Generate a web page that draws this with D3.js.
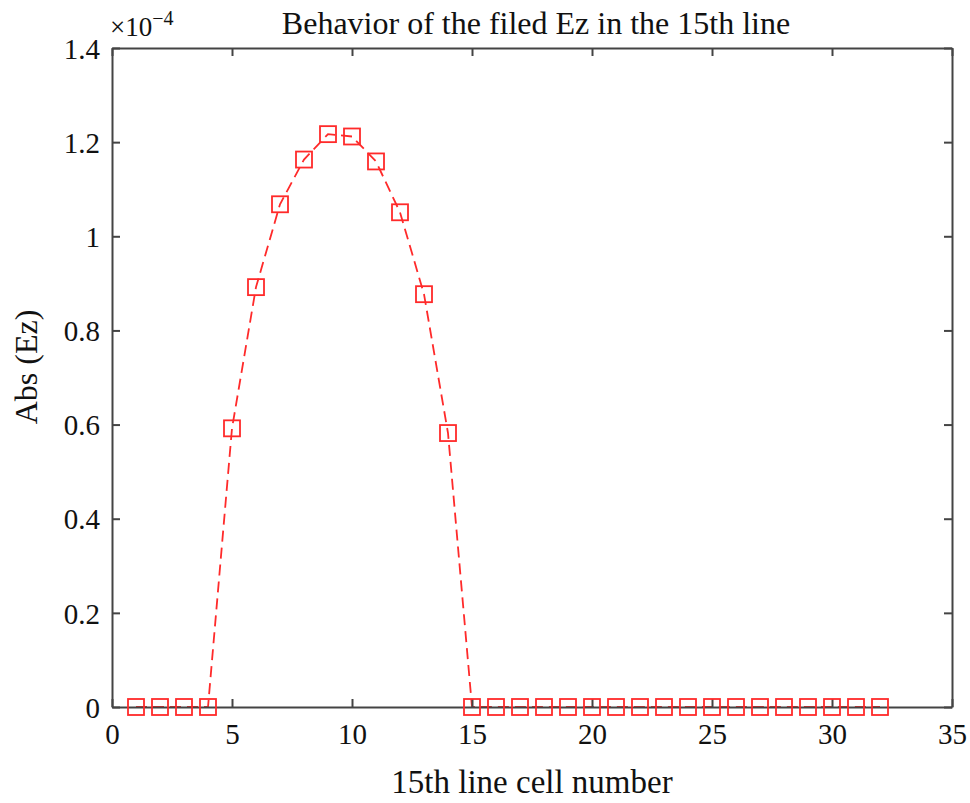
<!DOCTYPE html>
<html><head><meta charset="utf-8">
<script src="https://cdn.jsdelivr.net/npm/d3@7"></script>
<style>html,body{margin:0;padding:0;background:#fff;}</style>
</head><body>
<svg id="c" width="970" height="803"></svg>
<script>
const cells = d3.range(1, 33);
const absEz = [0,0,0,0,0.592,0.892,1.068,1.163,1.217,1.212,1.159,1.051,0.877,0.582,
  0,0,0,0,0,0,0,0,0,0,0,0,0,0,0,0,0,0];
const xTicks = [0,5,10,15,20,25,30,35];
const yTicks = [0,0.2,0.4,0.6,0.8,1,1.2,1.4];
const titleText = "Behavior of the filed Ez in the 15th line";
const xLabel = "15th line cell number";
const yLabel = "Abs (Ez)";

const svg = d3.select("#c");
const m = {l:112, r:952, t:48, b:707};
const x = d3.scaleLinear().domain([0,35]).range([m.l, m.r]);
const y = d3.scaleLinear().domain([0,1.4]).range([m.b, m.t]);
const font = "'Liberation Serif','Times New Roman',serif";
const axisCol = "#444";
const red = "#ff2a2a";

// data line
const data = cells.map((c,i)=>({x:c,y:absEz[i]}));
svg.append("path").datum(data)
  .attr("fill","none").attr("stroke",red).attr("stroke-width",1.8)
  .attr("stroke-dasharray","11,6")
  .attr("d", d3.line().x(d=>x(d.x)).y(d=>y(d.y)));

// axes (box with inner ticks)
const tl = 8;
const gB = svg.append("g").attr("transform",`translate(0,${m.b})`)
  .call(d3.axisBottom(x).tickValues(xTicks).tickSizeInner(-tl).tickSizeOuter(0).tickPadding(16).tickFormat(d3.format("d")));
const gT = svg.append("g").attr("transform",`translate(0,${m.t})`)
  .call(d3.axisTop(x).tickValues(xTicks).tickSizeInner(-tl).tickSizeOuter(0).tickFormat(""));
const gL = svg.append("g").attr("transform",`translate(${m.l},0)`)
  .call(d3.axisLeft(y).tickValues(yTicks).tickSizeInner(-tl).tickSizeOuter(0).tickPadding(12).tickFormat(d=>d===0?"0":(d===1?"1":d3.format(".1f")(d))));
const gR = svg.append("g").attr("transform",`translate(${m.r},0)`)
  .call(d3.axisRight(y).tickValues(yTicks).tickSizeInner(-tl).tickSizeOuter(0).tickFormat(""));
[gB,gT,gL,gR].forEach(g=>{
  g.select(".domain").attr("stroke",axisCol).attr("stroke-width",2);
  g.selectAll(".tick line").attr("stroke",axisCol).attr("stroke-width",2);
  g.selectAll("text").attr("font-family",font).attr("font-size",29).attr("fill","#111");
});
gB.selectAll("text").attr("dy","0.71em");
gL.selectAll("text").attr("dy","0.35em");

// markers
svg.append("g").selectAll("rect").data(data).join("rect")
  .attr("x",d=>x(d.x)-8).attr("y",d=>y(d.y)-8)
  .attr("width",16).attr("height",16)
  .attr("fill","none").attr("stroke",red).attr("stroke-width",1.8);

// title
svg.append("text").attr("x",536).attr("y",34).attr("text-anchor","middle")
  .attr("font-family",font).attr("font-size",32).attr("fill","#111").text(titleText);
// exponent
const ex = svg.append("text").attr("x",110).attr("y",36)
  .attr("font-family",font).attr("font-size",27).attr("fill","#111");
ex.append("tspan").text("×10");
ex.append("tspan").attr("dy",-11).attr("font-size",20).text("−4");
// axis labels
svg.append("text").attr("x",532).attr("y",793).attr("text-anchor","middle")
  .attr("font-family",font).attr("font-size",33).attr("fill","#111").text(xLabel);
svg.append("text").attr("transform","translate(37,367) rotate(-90)").attr("text-anchor","middle")
  .attr("font-family",font).attr("font-size",32).attr("fill","#111").text(yLabel);
</script>
</body></html>
